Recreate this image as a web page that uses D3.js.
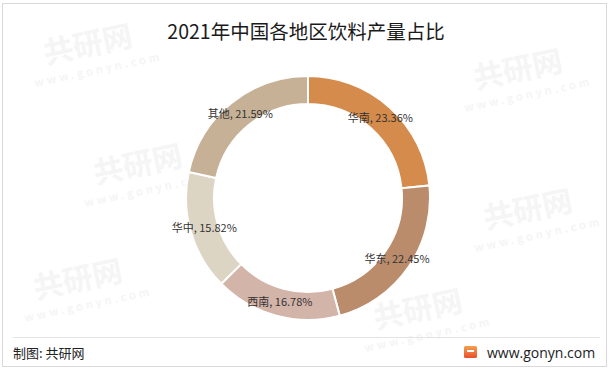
<!DOCTYPE html>
<html>
<head>
<meta charset="utf-8">
<script src="https://cdn.jsdelivr.net/npm/d3@7"></script>
<style>
  html, body { margin: 0; padding: 0; background: #fff; }
  svg { display: block; }
</style>
</head>
<body>
<svg id="chart" width="611" height="370"></svg>
<script>
const categories = ["华南", "华东", "西南", "华中", "其他"];
const values = [23.36, 22.45, 16.78, 15.82, 21.59];
const colors = ["#D48B4C", "#BA8C6B", "#D3B4A9", "#DDD5C3", "#C6B196"];
const titleText = "2021年中国各地区饮料产量占比";
const sourceText = "制图: 共研网";
const siteText = "www.gonyn.com";

const svg = d3.select("#chart");
const font = "'Noto Sans CJK SC', 'Noto Sans', sans-serif";

// frame
svg.append("rect").attr("x", 2.5).attr("y", 3.5).attr("width", 604).attr("height", 363)
  .attr("fill", "#fff").attr("stroke", "#d9d9d9").attr("stroke-width", 1);

// faint watermarks (kept inside the frame)
const wm = svg.append("g").attr("fill", "#f5f5f5").attr("font-family", font).attr("font-weight", "bold");
[[90, 55], [140, 175], [80, 290], [560 - 40, 80], [530, 220], [420, 320]].forEach(([x, y]) => {
  wm.append("text").attr("x", x).attr("y", y).attr("font-size", 30)
    .attr("transform", `rotate(-12 ${x} ${y})`).attr("text-anchor", "middle").text("共研网");
  wm.append("text").attr("x", x + 5).attr("y", y + 20).attr("font-size", 11)
    .attr("letter-spacing", 3).attr("transform", `rotate(-12 ${x} ${y})`).attr("text-anchor", "middle").text("www.gonyn.com");
});

// title
svg.append("text").attr("x", 306).attr("y", 39).attr("text-anchor", "middle")
  .attr("font-family", font).attr("font-size", 19.5).attr("fill", "#1a1a1a").text(titleText);

// donut
const cx = 308, cy = 198, rOut = 122, rIn = 94;
const pie = d3.pie().sort(null).value(d => d.v);
const data = categories.map((c, i) => ({ c, v: values[i], col: colors[i] }));
const arcs = pie(data);
const arc = d3.arc().innerRadius(rIn).outerRadius(rOut);
const labelArc = d3.arc().innerRadius(108).outerRadius(108);
const g = svg.append("g").attr("transform", `translate(${cx},${cy})`);
g.selectAll("path").data(arcs).join("path")
  .attr("d", arc).attr("fill", d => d.data.col)
  .attr("stroke", "#fff").attr("stroke-width", 2);
g.selectAll("text.lbl").data(arcs).join("text").attr("class", "lbl")
  .attr("transform", d => `translate(${labelArc.centroid(d)})`)
  .attr("text-anchor", "middle").attr("dy", "0.35em")
  .attr("font-family", font).attr("font-size", 11).attr("fill", "#333")
  .text(d => `${d.data.c}, ${d.data.v.toFixed(2)}%`);

// footer
svg.append("line").attr("x1", 13).attr("x2", 600).attr("y1", 337.5).attr("y2", 337.5)
  .attr("stroke", "#e3e3e3").attr("stroke-width", 1);
svg.append("text").attr("x", 13).attr("y", 358).attr("font-family", font)
  .attr("font-size", 13).attr("fill", "#222").text(sourceText);

const grad = svg.append("defs").append("linearGradient").attr("id", "lg")
  .attr("x1", 0).attr("y1", 0).attr("x2", 0).attr("y2", 1);
grad.append("stop").attr("offset", "0%").attr("stop-color", "#F5A04A");
grad.append("stop").attr("offset", "100%").attr("stop-color", "#E8502E");
svg.append("rect").attr("x", 464).attr("y", 346).attr("width", 13).attr("height", 12)
  .attr("rx", 1.5).attr("fill", "url(#lg)");
svg.append("rect").attr("x", 467).attr("y", 350).attr("width", 7).attr("height", 2)
  .attr("fill", "#fff");
svg.append("text").attr("x", 487).attr("y", 358).attr("font-family", "'Open Sans', 'Noto Sans', sans-serif")
  .attr("font-size", 14).attr("fill", "#222").text(siteText);
</script>
</body>
</html>
